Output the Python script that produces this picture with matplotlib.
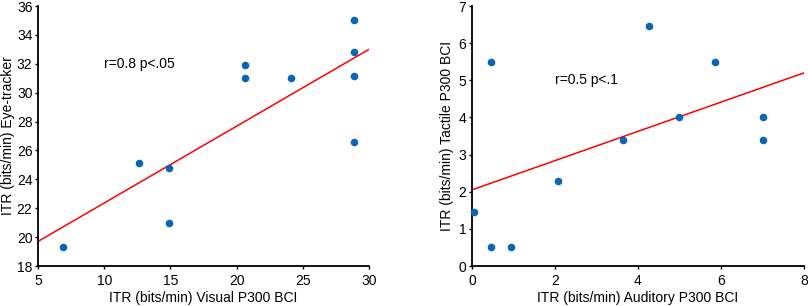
import matplotlib
matplotlib.use("Agg")
import matplotlib.pyplot as plt

plt.rcParams['font.family'] = ['Liberation Sans', 'DejaVu Sans']

# left panel: visual P300 BCI vs eye-tracker
visual_itr = [6.9, 12.6, 14.9, 14.9, 20.6, 20.6, 24.1, 28.9, 28.9, 28.9, 28.9]
eye_itr = [19.3, 25.1, 24.8, 21.0, 31.9, 31.05, 31.0, 35.0, 32.8, 31.15, 26.6]
fit1_x = [5, 30]
fit1_y = [19.7, 33.0]

# right panel: auditory vs tactile P300 BCI
auditory_itr = [0.05, 0.45, 0.45, 0.95, 2.08, 3.63, 4.27, 4.98, 5.85, 7.0, 7.0]
tactile_itr = [1.45, 5.5, 0.5, 0.5, 2.3, 3.38, 6.45, 4.0, 5.5, 4.0, 3.38]
fit2_x = [0, 8]
fit2_y = [2.05, 5.2]

W, H = 808, 306
fig = plt.figure(figsize=(W / 100, H / 100), dpi=100)
ax1 = fig.add_axes([38 / W, 40 / H, (369 - 38) / W, (266 - 6) / H])
ax2 = fig.add_axes([472 / W, 40 / H, (804 - 472) / W, (266 - 6) / H])

fs = 10
dot = '#0b64b4'
for ax in (ax1, ax2):
    ax.spines['top'].set_visible(False)
    ax.spines['right'].set_visible(False)
    ax.spines['left'].set_linewidth(1.3)
    ax.spines['bottom'].set_linewidth(1.3)
    ax.tick_params(axis='y', direction='out', length=2, width=1, labelsize=fs, pad=2)
    ax.tick_params(axis='x', direction='out', length=2, width=1, labelsize=fs, pad=4)

ax1.plot(fit1_x, fit1_y, color='red', lw=1.1, zorder=2)
ax1.scatter(visual_itr, eye_itr, s=30, color=dot, zorder=3, linewidths=0)
ax1.set_xlim(5, 30)
ax1.set_ylim(18, 36)
ax1.set_xticks([5, 10, 15, 20, 25, 30])
ax1.set_yticks(range(18, 37, 2))
ax1.set_xlabel('ITR (bits/min) Visual P300 BCI', fontsize=fs, labelpad=2)
ax1.set_ylabel('ITR (bits/min) Eye-tracker', fontsize=fs, labelpad=1)
ax1.text(10, 32, 'r=0.8 p<.05', fontsize=fs, va='center')

ax2.plot(fit2_x, fit2_y, color='red', lw=1.1, zorder=2)
ax2.scatter(auditory_itr, tactile_itr, s=30, color=dot, zorder=3, linewidths=0, clip_on=False)
ax2.set_xlim(0, 8)
ax2.set_ylim(0, 7)
ax2.set_xticks(range(0, 9, 2))
ax2.set_yticks(range(0, 8))
ax2.set_xlabel('ITR (bits/min) Auditory P300 BCI', fontsize=fs, labelpad=2)
ax2.set_ylabel('ITR (bits/min) Tactile P300 BCI', fontsize=fs, labelpad=3)
ax2.text(2.0, 5.0, 'r=0.5 p<.1', fontsize=fs, va='center')

fig.savefig('out.png', dpi=100)
